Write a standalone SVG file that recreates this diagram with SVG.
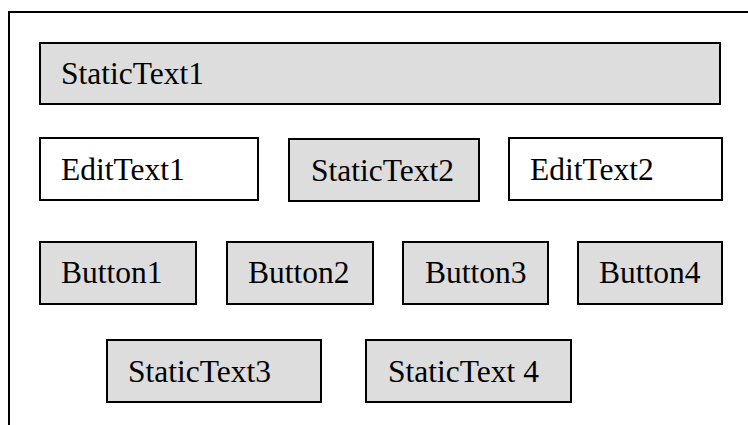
<svg xmlns="http://www.w3.org/2000/svg" width="748" height="425" viewBox="0 0 748 425">
<style>
.s{fill:#dddddd;stroke:#000;stroke-width:2}
.e{fill:#fff;stroke:#000;stroke-width:2}
.t{font-family:"Liberation Serif","Times New Roman",serif;font-size:31.5px;fill:#000}
.f{fill:none;stroke:#000;stroke-width:2}
</style>
<rect width="748" height="425" fill="#fff"/>
<g id="frame"><path class="f" d="M9 425 V12 H748"/></g>
<g id="connectors"></g>
<g id="StaticText1"><rect class="s" x="40" y="43" width="680" height="61"/><text class="t" x="61" y="84">StaticText1</text></g>
<g id="EditText1"><rect class="e" x="40" y="138" width="218" height="62"/><text class="t" x="61" y="180">EditText1</text></g>
<g id="StaticText2"><rect class="s" x="289" y="139" width="190" height="62"/><text class="t" x="311" y="181">StaticText2</text></g>
<g id="EditText2"><rect class="e" x="509" y="138" width="213" height="62"/><text class="t" x="530" y="180">EditText2</text></g>
<g id="Button1"><rect class="s" x="40" y="242" width="156" height="62"/><text class="t" x="61" y="283">Button1</text></g>
<g id="Button2"><rect class="s" x="227" y="242" width="146" height="62"/><text class="t" x="248" y="283">Button2</text></g>
<g id="Button3"><rect class="s" x="403" y="242" width="145" height="62"/><text class="t" x="425" y="283">Button3</text></g>
<g id="Button4"><rect class="s" x="578" y="242" width="144" height="62"/><text class="t" x="599" y="283">Button4</text></g>
<g id="StaticText3"><rect class="s" x="107" y="340" width="214" height="62"/><text class="t" x="128" y="382">StaticText3</text></g>
<g id="StaticText4"><rect class="s" x="366" y="340" width="205" height="62"/><text class="t" x="388" y="382">StaticText 4</text></g>
</svg>
